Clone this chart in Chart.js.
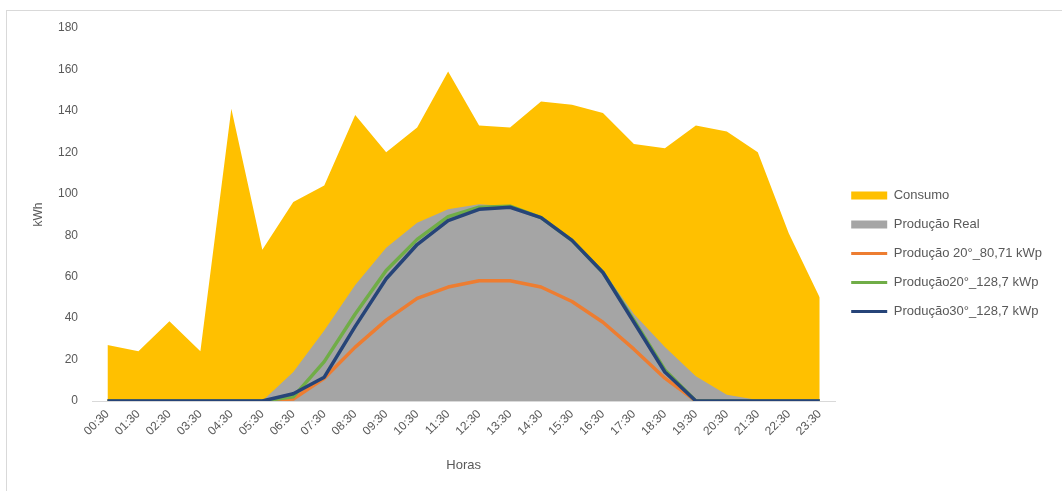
<!DOCTYPE html>
<html>
<head>
<meta charset="utf-8">
<script src="https://cdn.jsdelivr.net/npm/chart.js@4.4.1/dist/chart.umd.min.js"></script>
<style>
    html, body { margin: 0; padding: 0; background: #fff; }
    #frame {
        position: absolute; left: 6px; top: 10px;
        width: 1055px; height: 480px;
        border-top: 1px solid #d9d9d9; border-left: 1px solid #d9d9d9;
    }
    #chart { display: block; }
</style>
</head>
<body>
<div id="frame"><canvas id="chart" width="1055" height="480"></canvas></div>
<script>
    const horas = ['00:30', '01:30', '02:30', '03:30', '04:30', '05:30', '06:30', '07:30', '08:30', '09:30', '10:30', '11:30',
        '12:30', '13:30', '14:30', '15:30', '16:30', '17:30', '18:30', '19:30', '20:30', '21:30', '22:30', '23:30'];

    const consumo = [27, 24, 38.5, 24, 141, 73, 96, 104, 138, 120, 132, 159,
        133, 132, 144.5, 143, 139, 124, 122, 133, 130, 120, 81, 50];

    const producaoReal = [0, 0, 0, 0, 0, 0, 14, 34, 56, 74, 86, 92.5,
        95, 94, 89, 78, 63, 42, 26, 12, 3, 0.5, 0, 0];

    const prod20_8071 = [0, 0, 0, 0, 0, 0, 1, 11, 26, 39, 49.5, 55,
        58, 58, 55, 48, 38, 25, 11, 0, 0, 0, 0, 0];

    const prod20_1287 = [0, 0, 0, 0, 0, 0, 2, 19, 42, 63, 78, 89,
        93.5, 94, 88.5, 77.5, 62, 39, 15, 0, 0, 0, 0, 0];

    const prod30_1287 = [0, 0, 0, 0, 0, 0, 3.5, 11.5, 36, 59, 75.5, 87,
        92.5, 93.5, 88.5, 77.5, 62, 38, 14, 0, 0, 0, 0, 0];

    const yTicks = [0, 20, 40, 60, 80, 100, 120, 140, 160, 180];

    const FONT = "'Liberation Sans', sans-serif";
    const TEXT = '#595959';

    Chart.defaults.font.family = FONT;
    Chart.defaults.color = TEXT;

    function area(label, data, color, order) {
        return {
            label: label, data: data,
            backgroundColor: color, borderColor: color, borderWidth: 0,
            fill: 'origin', pointRadius: 0, tension: 0, order: order,
            legendStyle: 'rect'
        };
    }

    function line(label, data, color, order) {
        return {
            label: label, data: data,
            borderColor: color, backgroundColor: color, borderWidth: 3.5,
            fill: false, pointRadius: 0, tension: 0, order: order,
            borderJoinStyle: 'round', legendStyle: 'line'
        };
    }

    new Chart(document.getElementById('chart'), {
        type: 'line',
        data: {
            labels: horas,
            datasets: [
                area('Consumo', consumo, '#FFC000', 5),
                area('Produção Real', producaoReal, '#A5A5A5', 4),
                line('Produção 20°_80,71 kWp', prod20_8071, '#ED7D31', 3),
                line('Produção20°_128,7 kWp', prod20_1287, '#70AD47', 2),
                line('Produção30°_128,7 kWp', prod30_1287, '#264478', 1)
            ]
        },
        options: {
            responsive: false,
            animation: false,
            layout: { padding: { top: 17, bottom: 12, left: 0, right: 10 } },
            plugins: {
                tooltip: { enabled: false },
                legend: {
                    position: 'right',
                    labels: {
                        usePointStyle: true,
                        pointStyleWidth: 36,
                        boxHeight: 8,
                        padding: 16,
                        font: { size: 13 },
                        color: TEXT,
                        generateLabels: (chart) => chart.data.datasets.map((ds, i) => ({
                            text: ds.label,
                            datasetIndex: i,
                            pointStyle: ds.legendStyle,
                            fillStyle: ds.legendStyle === 'rect' ? ds.backgroundColor : 'transparent',
                            strokeStyle: ds.borderColor,
                            lineWidth: ds.legendStyle === 'rect' ? 0 : 3,
                            fontColor: TEXT,
                            hidden: false
                        }))
                    }
                }
            },
            scales: {
                x: {
                    offset: true,
                    grid: { display: false, drawTicks: false },
                    border: { display: true, color: '#d9d9d9', width: 1 },
                    ticks: { minRotation: 45, maxRotation: 45, padding: 6, font: { size: 12 }, color: TEXT },
                    title: { display: true, text: 'Horas', font: { size: 13 }, color: TEXT, padding: { top: 0, bottom: 6 } },
                    afterFit: (scale) => { scale.height = 78; }
                },
                y: {
                    min: 0, max: 180,
                    afterBuildTicks: (scale) => { scale.ticks = yTicks.map(v => ({ value: v })); },
                    grid: { display: false, drawTicks: false },
                    border: { display: false },
                    ticks: { padding: 14, font: { size: 12 }, color: TEXT },
                    title: { display: true, text: 'kWh', font: { size: 12 }, color: TEXT, padding: { top: 24, bottom: 0 } },
                    afterFit: (scale) => {
                        scale.width = 85;
                        scale.paddingTop = 6;
                        scale.paddingBottom = 6;
                    }
                }
            }
        }
    });
</script>
</body>
</html>
